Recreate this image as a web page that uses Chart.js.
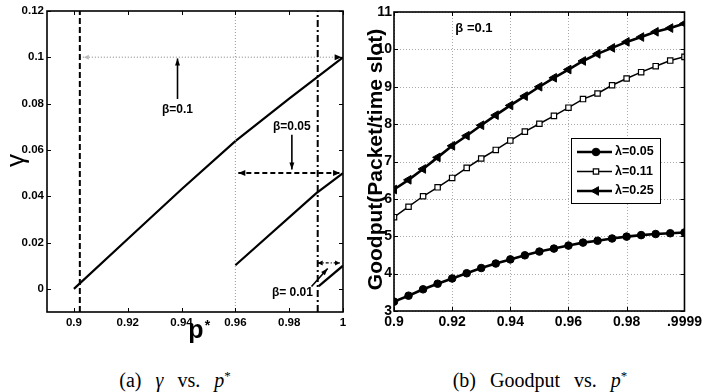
<!DOCTYPE html>
<html>
<head>
<meta charset="utf-8">
<script src="https://cdn.jsdelivr.net/npm/chart.js@4.4.1/dist/chart.umd.min.js"></script>
<style>
  body { margin: 0; background: #fff; }
  #wrap { position: relative; width: 705px; height: 392px; overflow: hidden; }
  canvas { position: absolute; top: 0; }
  #chartA { left: 0; }
  #chartB { left: 352px; }
  .cap { position: absolute; top: 369px; line-height: 22px; font-family: 'Liberation Serif', 'Times New Roman', serif;
         font-size: 20px; white-space: nowrap; transform: translateX(-50%); word-spacing: 2px; }
  .cap i { font-style: italic; }
  .cap sup { font-size: 13px; vertical-align: 7px; line-height: 0; }
</style>
</head>
<body>
<div id="wrap">
  <canvas id="chartA" width="352" height="350"></canvas>
  <canvas id="chartB" width="353" height="350"></canvas>
  <div class="cap" style="left:175px">(a)&nbsp; <i>γ</i> &nbsp;vs.&nbsp; <i>p</i><sup>*</sup></div>
  <div class="cap" style="left:540px">(b)&nbsp; Goodput &nbsp;vs.&nbsp; <i>p</i><sup>*</sup></div>
</div>
<script>
// ---- (a) gamma vs p* ----
const leftXTicks = [0.9, 0.92, 0.94, 0.96, 0.98, 1];
const leftXLabels = ['0.9', '0.92', '0.94', '0.96', '0.98', '1'];
const leftYTicks = [0, 0.02, 0.04, 0.06, 0.08, 0.1, 0.12];
const leftYLabels = ['0', '0.02', '0.04', '0.06', '0.08', '0.1', '0.12'];

const beta01P = [0.9, 0.92, 0.94, 0.96, 0.98, 1];
const beta01G = [0, 0.0215, 0.043, 0.0638, 0.0822, 0.1];
const beta005P = [0.96, 0.99, 1];
const beta005G = [0.0102, 0.0412, 0.05];
const beta001P = [0.991, 1];
const beta001G = [0.0012, 0.01];

// threshold p* for each beta
const thrP01 = 0.9022;
const thrP005 = 0.96;
const thrP001 = 0.9906;
const gammaSpan = [-0.01, 0.12];

// horizontal ranges (gamma level for each beta)
const span01P = [0.9022, 0.9995], span01G = 0.1;
const span005P = [0.9611, 0.9989], span005G = 0.05;
const span001P = [0.9906, 0.9989], span001G = 0.0112;

// ---- (b) goodput vs p* ----
const pStar = [0.9, 0.905, 0.91, 0.915, 0.92, 0.925, 0.93, 0.935, 0.94, 0.945, 0.95,
               0.955, 0.96, 0.965, 0.97, 0.975, 0.98, 0.985, 0.99, 0.995, 0.9999];
const lam005 = [3.25, 3.41, 3.58, 3.73, 3.87, 4.01, 4.15, 4.27, 4.38, 4.49, 4.59,
                4.67, 4.75, 4.83, 4.88, 4.94, 4.99, 5.03, 5.06, 5.08, 5.1];
const lam011 = [5.51, 5.79, 6.07, 6.31, 6.56, 6.83, 7.08, 7.31, 7.56, 7.8, 8.01,
                8.22, 8.44, 8.67, 8.82, 9.04, 9.22, 9.39, 9.55, 9.7, 9.8];
const lam025 = [6.25, 6.51, 6.8, 7.11, 7.42, 7.69, 7.97, 8.24, 8.5, 8.75, 9.0,
                9.24, 9.46, 9.69, 9.88, 10.04, 10.2, 10.33, 10.47, 10.57, 10.69];
const rightXTicks = [0.9, 0.92, 0.94, 0.96, 0.98, 0.9999];
const rightXLabels = ['0.9', '0.92', '0.94', '0.96', '0.98', '.9999'];
const rightYTicks = [3, 4, 5, 6, 7, 8, 9, 10, 11];

const NARROW = "'Liberation Sans Narrow','Liberation Sans',Arial,sans-serif";
const SANS = "'Liberation Sans',Arial,sans-serif";
Chart.defaults.color = '#000';
Chart.defaults.font.family = NARROW;

function pts(xs, ys) { return xs.map((x, i) => ({ x: x, y: ys[i] })); }

function arrowHead(ctx, x1, y1, x2, y2, len, half) {
  const a = Math.atan2(y2 - y1, x2 - x1);
  const c = Math.cos(a), s = Math.sin(a);
  ctx.beginPath();
  ctx.moveTo(x2, y2);
  ctx.lineTo(x2 - len * c + half * s, y2 - len * s - half * c);
  ctx.lineTo(x2 - len * c - half * s, y2 - len * s + half * c);
  ctx.closePath();
  ctx.fill();
}

// box, inward ticks and optional dotted grid
function framePlugin(withGrid) {
  return {
    id: 'frame',
    beforeDatasetsDraw(chart) {
      if (!withGrid) return;
      const { ctx, chartArea: a, scales: { x, y } } = chart;
      ctx.save();
      ctx.strokeStyle = '#aaa';
      ctx.lineWidth = 1;
      ctx.setLineDash([1, 2]);
      x.ticks.forEach(t => {
        const px = Math.round(x.getPixelForValue(t.value)) + 0.5;
        ctx.beginPath(); ctx.moveTo(px, a.top); ctx.lineTo(px, a.bottom); ctx.stroke();
      });
      y.ticks.forEach(t => {
        const py = Math.round(y.getPixelForValue(t.value)) + 0.5;
        ctx.beginPath(); ctx.moveTo(a.left, py); ctx.lineTo(a.right, py); ctx.stroke();
      });
      ctx.restore();
    },
    afterDatasetsDraw(chart) {
      const { ctx, chartArea: a, scales: { x, y } } = chart;
      ctx.save();
      ctx.strokeStyle = '#000';
      ctx.lineWidth = 1;
      x.ticks.forEach(t => {
        const px = Math.round(x.getPixelForValue(t.value)) + 0.5;
        ctx.beginPath();
        ctx.moveTo(px, a.bottom); ctx.lineTo(px, a.bottom - 4);
        ctx.moveTo(px, a.top); ctx.lineTo(px, a.top + 4);
        ctx.stroke();
      });
      y.ticks.forEach(t => {
        const py = Math.round(y.getPixelForValue(t.value)) + 0.5;
        ctx.beginPath();
        ctx.moveTo(a.left, py); ctx.lineTo(a.left + 4, py);
        ctx.moveTo(a.right, py); ctx.lineTo(a.right - 4, py);
        ctx.stroke();
      });
      ctx.lineWidth = 1.6;
      ctx.strokeRect(a.left, a.top, a.right - a.left, a.bottom - a.top);
      ctx.restore();
    }
  };
}

function drawPStar(ctx, cx, baseline) {
  ctx.save();
  ctx.fillStyle = '#000';
  ctx.textBaseline = 'alphabetic';
  ctx.font = 'bold 25px ' + SANS;
  const w = ctx.measureText('p').width;
  ctx.textAlign = 'left';
  ctx.fillText('p', cx - w / 2 - 3, baseline);
  ctx.font = 'bold 14px ' + SANS;
  ctx.fillText('*', cx + w / 2 - 2, baseline - 8);
  ctx.restore();
}

// ---- chart (a) ----
const annotA = {
  id: 'annotA',
  afterDatasetsDraw(chart) {
    const { ctx, scales: { x, y } } = chart;
    const X = v => x.getPixelForValue(v), Y = v => y.getPixelForValue(v);
    ctx.save();
    ctx.fillStyle = '#000';
    ctx.strokeStyle = '#000';
    // pointer arrows to each beta curve
    [[0.9385, 0.082, 0.9385, 0.0995], [0.981, 0.0665, 0.981, 0.0515], [0.9883, 0.001, 0.9943, 0.0088]]
      .forEach(r => {
        ctx.lineWidth = 1.6;
        ctx.beginPath(); ctx.moveTo(X(r[0]), Y(r[1])); ctx.lineTo(X(r[2]), Y(r[3])); ctx.stroke();
        arrowHead(ctx, X(r[0]), Y(r[1]), X(r[2]), Y(r[3]), 7, 2.5);
      });
    // heads of horizontal range arrows
    arrowHead(ctx, X(span01P[0]), Y(span01G), X(span01P[1]), Y(span01G), 7, 3);
    arrowHead(ctx, X(span005P[1]), Y(span005G), X(span005P[0]), Y(span005G), 7, 3);
    arrowHead(ctx, X(span005P[0]), Y(span005G), X(span005P[1]), Y(span005G), 7, 3);
    arrowHead(ctx, X(span001P[1]), Y(span001G), X(span001P[0]), Y(span001G), 5, 2.5);
    arrowHead(ctx, X(span001P[0]), Y(span001G), X(span001P[1]), Y(span001G), 5, 2.5);
    ctx.fillStyle = '#bbb';
    arrowHead(ctx, X(span01P[1]), Y(span01G), X(span01P[0]) + 4, Y(span01G), 5, 2.5);
    // labels
    ctx.fillStyle = '#000';
    ctx.font = 'bold 12px ' + NARROW;
    ctx.textAlign = 'center';
    ctx.textBaseline = 'middle';
    ctx.fillText('β=0.1', X(0.9385), Y(0.0775));
    ctx.fillText('β=0.05', X(0.981), Y(0.0699));
    ctx.fillText('β= 0.01', X(0.9812), Y(-0.0017));
    ctx.restore();
  },
  afterDraw(chart) {
    const { ctx, chartArea: a } = chart;
    ctx.save();
    ctx.fillStyle = '#000';
    ctx.font = '26px ' + SANS;
    ctx.textAlign = 'center';
    ctx.textBaseline = 'middle';
    ctx.translate(17, (a.top + a.bottom) / 2 - 1);
    ctx.rotate(-Math.PI / 2);
    ctx.fillText('γ', 0, 0);
    ctx.restore();
    drawPStar(ctx, 199, 338);
  }
};

new Chart(document.getElementById('chartA'), {
  type: 'line',
  data: {
    datasets: [
      { data: pts([thrP01, thrP01], gammaSpan), borderColor: '#000', borderWidth: 2, borderDash: [6, 3] },
      { data: pts([thrP005, thrP005], gammaSpan), borderColor: '#999', borderWidth: 1, borderDash: [1, 2] },
      { data: pts([thrP001, thrP001], gammaSpan), borderColor: '#000', borderWidth: 2, borderDash: [7, 3, 2, 3] },
      { data: pts(span01P, [span01G, span01G]), borderColor: '#aaa', borderWidth: 1.5, borderDash: [1, 2] },
      { data: pts(span005P, [span005G, span005G]), borderColor: '#000', borderWidth: 2, borderDash: [5, 3] },
      { data: pts(span001P, [span001G, span001G]), borderColor: '#000', borderWidth: 1.2, borderDash: [3, 2, 1, 2] },
      { data: pts(beta01P, beta01G), borderColor: '#000', borderWidth: 2.2 },
      { data: pts(beta005P, beta005G), borderColor: '#000', borderWidth: 2.2 },
      { data: pts(beta001P, beta001G), borderColor: '#000', borderWidth: 2.2 }
    ]
  },
  options: {
    responsive: false,
    animation: false,
    events: [],
    devicePixelRatio: 1,
    layout: { padding: { top: 11, right: 9, left: 0, bottom: 0 } },
    elements: { point: { radius: 0 }, line: { tension: 0, fill: false } },
    plugins: { legend: { display: false }, tooltip: { enabled: false } },
    scales: {
      x: {
        type: 'linear', min: 0.89, max: 1,
        grid: { display: false, drawTicks: false },
        border: { display: false },
        afterBuildTicks: s => { s.ticks = leftXTicks.map(v => ({ value: v })); },
        afterFit: s => { s.height = 38; },
        ticks: {
          padding: 4, maxRotation: 0, autoSkip: false,
          font: { size: 11.5, weight: 'bold' },
          callback: (v, i) => leftXLabels[i]
        }
      },
      y: {
        type: 'linear', min: -0.01, max: 0.12,
        grid: { display: false, drawTicks: false },
        border: { display: false },
        afterBuildTicks: s => { s.ticks = leftYTicks.map(v => ({ value: v })); },
        afterFit: s => { s.width = 47; },
        ticks: {
          padding: 3, autoSkip: false,
          font: { size: 11.5, weight: 'bold' },
          callback: (v, i) => leftYLabels[i]
        }
      }
    }
  },
  plugins: [framePlugin(false), annotA]
});

// ---- chart (b) ----
const annotB = {
  id: 'annotB',
  afterDraw(chart) {
    const { ctx, chartArea: a, scales: { x, y } } = chart;
    ctx.save();
    // beta note
    ctx.fillStyle = '#000';
    ctx.font = 'bold 13px ' + NARROW;
    ctx.textAlign = 'left';
    ctx.textBaseline = 'middle';
    ctx.fillText('β =0.1', x.getPixelForValue(0.9211), y.getPixelForValue(10.57));
    // legend box
    const bx = 219, by = 138, bw = 89, bh = 65;
    ctx.fillStyle = '#fff';
    ctx.fillRect(bx, by, bw, bh);
    ctx.strokeStyle = '#000';
    ctx.lineWidth = 1;
    ctx.strokeRect(bx + 0.5, by + 0.5, bw, bh);
    chart.data.datasets.forEach((ds, i) => {
      const yy = by + 14 + i * 19.5;
      ctx.strokeStyle = '#000';
      ctx.lineWidth = ds.borderWidth;
      ctx.beginPath(); ctx.moveTo(bx + 6, yy); ctx.lineTo(bx + 41, yy); ctx.stroke();
      ctx.fillStyle = ds.pointBackgroundColor;
      ctx.lineWidth = ds.pointBorderWidth;
      Chart.helpers.drawPoint(ctx, {
        pointStyle: ds.pointStyle, rotation: ds.pointRotation || 0,
        radius: ds.pointRadius, borderWidth: ds.pointBorderWidth
      }, bx + 25, yy);
      ctx.fillStyle = '#000';
      ctx.font = 'bold 12.5px ' + NARROW;
      ctx.textAlign = 'left';
      ctx.fillText(ds.label, bx + 44, yy);
    });
    // axis title
    ctx.font = 'bold 21px ' + SANS;
    ctx.textAlign = 'center';
    ctx.textBaseline = 'middle';
    ctx.translate(24, (a.top + a.bottom) / 2 - 2);
    ctx.rotate(-Math.PI / 2);
    ctx.fillText('Goodput(Packet/time slot)', 0, 0);
    ctx.restore();
    drawPStar(ctx, 548, 338);
  }
};

new Chart(document.getElementById('chartB'), {
  type: 'line',
  data: {
    datasets: [
      { label: 'λ=0.05', data: pts(pStar, lam005), borderColor: '#000', borderWidth: 2.6,
        pointStyle: 'circle', pointRadius: 3.8, pointBackgroundColor: '#000', pointBorderColor: '#000', pointBorderWidth: 1 },
      { label: 'λ=0.11', data: pts(pStar, lam011), borderColor: '#000', borderWidth: 1.5,
        pointStyle: 'rect', pointRadius: 3.8, pointBackgroundColor: '#fff', pointBorderColor: '#000', pointBorderWidth: 1.2 },
      { label: 'λ=0.25', data: pts(pStar, lam025), borderColor: '#000', borderWidth: 2.6,
        pointStyle: 'triangle', pointRotation: -90, pointRadius: 5, pointBackgroundColor: '#000', pointBorderColor: '#000', pointBorderWidth: 1 }
    ]
  },
  options: {
    responsive: false,
    animation: false,
    events: [],
    devicePixelRatio: 1,
    layout: { padding: { top: 12, right: 12, left: 0, bottom: 0 } },
    elements: { line: { tension: 0, fill: false } },
    plugins: { legend: { display: false }, tooltip: { enabled: false } },
    scales: {
      x: {
        type: 'linear', min: 0.9, max: 0.9999,
        grid: { display: false, drawTicks: false },
        border: { display: false },
        afterBuildTicks: s => { s.ticks = rightXTicks.map(v => ({ value: v })); },
        afterFit: s => { s.height = 39; },
        ticks: {
          padding: 3, maxRotation: 0, autoSkip: false,
          font: { size: 14, weight: 'bold' },
          callback: (v, i) => rightXLabels[i]
        }
      },
      y: {
        type: 'linear', min: 3, max: 11,
        grid: { display: false, drawTicks: false },
        border: { display: false },
        afterBuildTicks: s => { s.ticks = rightYTicks.map(v => ({ value: v })); },
        afterFit: s => { s.width = 42; },
        ticks: {
          padding: 2, autoSkip: false,
          font: { size: 14, weight: 'bold' },
          callback: v => String(v)
        }
      }
    }
  },
  plugins: [framePlugin(true), annotB]
});
</script>
</body>
</html>
